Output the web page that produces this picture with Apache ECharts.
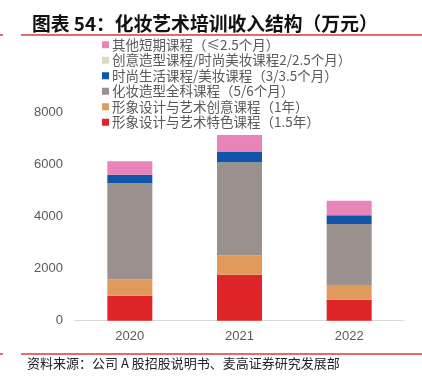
<!DOCTYPE html>
<html>
<head>
<meta charset="utf-8">
<script src="https://cdn.jsdelivr.net/npm/echarts@6/dist/echarts.min.js"></script>
<style>
  html, body { margin: 0; padding: 0; background: #fff; }
  #chart { width: 422px; height: 391px; }
</style>
</head>
<body>
<div id="chart"></div>
<script>
const years = ['2020', '2021', '2022']
const yTicks = [0, 2000, 4000, 6000, 8000]

// 各课程收入（万元），自下而上堆叠
const redCourse = [960, 1770, 810]
const orangeCourse = [630, 745, 565]
const grayCourse = [3700, 3580, 2345]
const blueCourse = [320, 410, 335]
const beigeCourse = [0, 0, 0]
const pinkCourse = [525, 640, 560]

const names = [
  '其他短期课程（≤2.5个月）',
  '创意造型课程/时尚美妆课程2/2.5个月）',
  '时尚生活课程/美妆课程（3/3.5个月）',
  '化妆造型全科课程（5/6个月）',
  '形象设计与艺术创意课程（1年）',
  '形象设计与艺术特色课程（1.5年）'
]

const chart = echarts.init(document.getElementById('chart'))

const mkSeries = (name, data, color) => ({
  name,
  type: 'bar',
  stack: 'total',
  data,
  barWidth: 45,
  itemStyle: { color },
  emphasis: { disabled: true }
})

const option = {
  animation: false,
  title: {
    text: '图表 54：化妆艺术培训收入结构（万元）',
    left: 27,
    top: 9,
    textStyle: {
      fontSize: 18.8,
      fontWeight: 'bold',
      color: '#111',
      fontFamily: 'Noto Sans CJK SC'
    }
  },
  legend: {
    orient: 'vertical',
    left: 97,
    top: 33,
    itemWidth: 7,
    itemHeight: 7,
    itemGap: 2,
    icon: 'rect',
    data: names,
    textStyle: {
      color: '#595959',
      fontSize: 13.5,
      fontFamily: 'Noto Sans CJK SC',
      padding: [0, 0, 0, -2]
    }
  },
  grid: {
    left: 75,
    right: 18,
    top: 112.7,
    bottom: 70.3
  },
  xAxis: {
    type: 'category',
    data: years,
    axisTick: { show: false },
    axisLine: { lineStyle: { color: '#d9d9d9', width: 1 } },
    axisLabel: {
      color: '#595959',
      fontSize: 13,
      margin: 9,
      fontFamily: 'Liberation Sans'
    }
  },
  yAxis: {
    type: 'value',
    min: yTicks[0],
    max: yTicks[yTicks.length - 1],
    interval: 2000,
    axisLine: { show: false },
    axisTick: { show: false },
    splitLine: { show: false },
    axisLabel: {
      color: '#595959',
      fontSize: 13,
      margin: 12,
      fontFamily: 'Liberation Sans',
      formatter: v => String(v)
    }
  },
  series: [
    mkSeries(names[5], redCourse, '#e02528'),
    mkSeries(names[4], orangeCourse, '#e09a5b'),
    mkSeries(names[3], grayCourse, '#9a908e'),
    mkSeries(names[2], blueCourse, '#1155a8'),
    mkSeries(names[1], beigeCourse, '#ddd9c4'),
    mkSeries(names[0], pinkCourse, '#e884b8')
  ],
  graphic: [
    { type: 'rect', shape: { x: 21, y: 34, width: 401, height: 2 }, style: { fill: '#e06b6b' } },
    { type: 'rect', shape: { x: 0, y: 34, width: 3, height: 2 }, style: { fill: '#e06b6b' } },
    { type: 'rect', shape: { x: 21, y: 353, width: 401, height: 2 }, style: { fill: '#e06b6b' } },
    { type: 'rect', shape: { x: 0, y: 353, width: 3, height: 2 }, style: { fill: '#e06b6b' } },
    {
      type: 'text',
      left: 27,
      top: 357,
      style: {
        text: '资料来源：公司 A 股招股说明书、麦高证券研究发展部',
        fontSize: 13,
        fill: '#222',
        fontFamily: 'Noto Sans CJK SC'
      }
    }
  ]
}

chart.setOption(option)
</script>
</body>
</html>
